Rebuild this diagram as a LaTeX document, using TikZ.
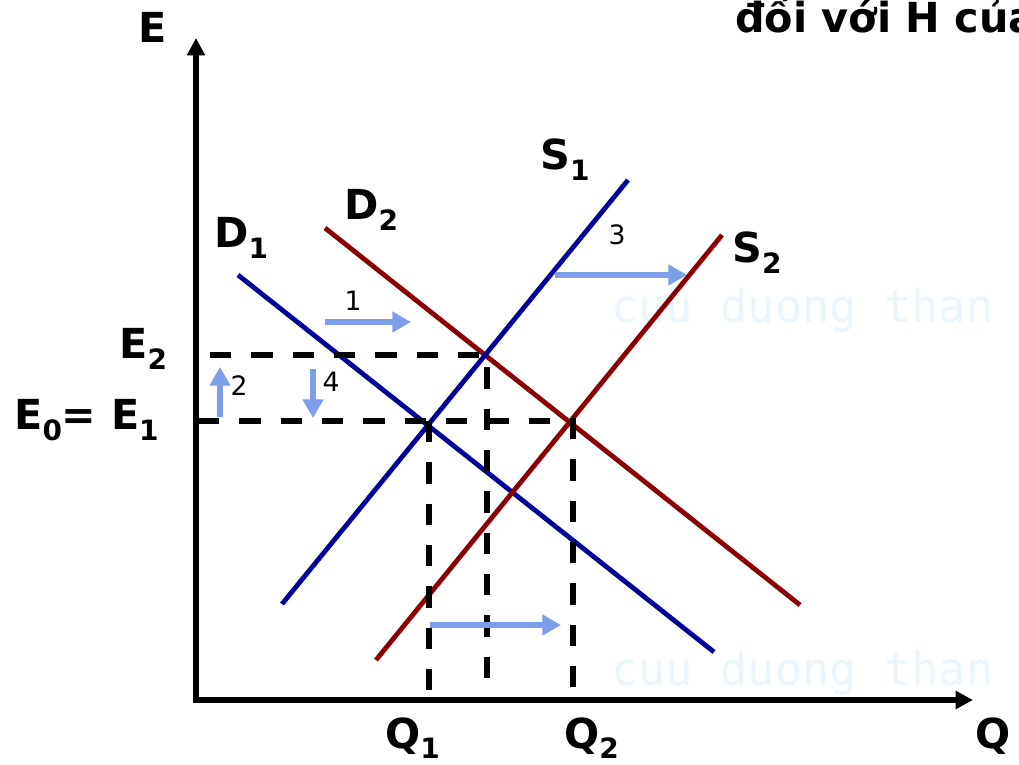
\documentclass[tikz,border=0pt]{standalone}
\usepackage{fontspec}
\setmainfont{DejaVu Sans}
\newfontfamily\wmfont{DejaVu Sans Mono}
\usetikzlibrary{arrows.meta}
\definecolor{dblue}{RGB}{0,0,153}
\definecolor{dred}{RGB}{139,0,0}
\definecolor{moveblue}{RGB}{125,158,232}
\definecolor{wmblue}{RGB}{234,245,252}
\newcommand{\lsub}[1]{\raisebox{-8pt}{\fontsize{21}{21}\selectfont #1}}

\begin{document}
\begin{tikzpicture}[x=0.75pt,y=0.75pt,
    lbl/.style={font=\fontsize{31}{34}\selectfont\bfseries,inner sep=0pt,anchor=base west},
    num/.style={font=\fontsize{20}{22}\selectfont,inner sep=0pt},
    wm/.style={font=\wmfont\fontsize{34}{36}\selectfont,text=wmblue,inner sep=0pt,anchor=base west},
    schedule/.style={line width=3.6pt},
    dashline/.style={line width=4pt,dash pattern=on 16pt off 15pt},
    movearrow/.style={moveblue,line width=4.5pt,-{Triangle[length=14pt,width=15pt]}},
    axisline/.style={line width=4pt,line join=miter,{Triangle[length=13pt,width=13pt]}-{Triangle[length=13pt,width=13pt]}}]
  \useasboundingbox (0,0) rectangle (1019,764);
  % watermark
  \node[wm] (wmtop) at (611,441) {cuu duong than};
  \node[wm] (wmbot) at (611,79) {cuu duong than};
  % title (cut by the page edge)
  \node[lbl] (title) at (735,731) {đối với H của};
  % axes
  \coordinate (O) at (196,64);
  \coordinate (Etip) at (196,726);
  \coordinate (Qtip) at (973,64);
  \draw[axisline] (Etip) -- (O) -- (Qtip);
  \node[lbl] (Elab) at (138,721) {E};
  \node[lbl] (Qlab) at (975,16) {Q};
  % demand and supply
  \draw[schedule,dblue] (238,489) coordinate (d1a) -- (714,112) coordinate (d1b);
  \draw[schedule,dred] (325,536) coordinate (d2a) -- (800,159) coordinate (d2b);
  \draw[schedule,dblue] (282,160) coordinate (s1a) -- (628,584) coordinate (s1b);
  \draw[schedule,dred] (376,104) coordinate (s2a) -- (722,529) coordinate (s2b);
  \node[lbl] (D1) at (214,516) {D\lsub{1}};
  \node[lbl] (D2) at (344,544) {D\lsub{2}};
  \node[lbl] (S1) at (540,594) {S\lsub{1}};
  \node[lbl] (S2) at (732,501) {S\lsub{2}};
  % equilibria
  \coordinate (P1) at (429,343);
  \coordinate (P2) at (487,409);
  \coordinate (P3) at (573,343);
  \draw[dashline] (210,409) -- (P2) -- (487,64);
  \draw[dashline] (198,343) -- (P3) -- (573,64);
  \draw[dashline] (P1) -- (429,64);
  \node[lbl] (E2) at (119,405) {E\lsub{2}};
  \node[lbl] (E01) at (14,334) {E\lsub{0}= E\lsub{1}};
  \node[lbl] (Q1) at (385,16) {Q\lsub{1}};
  \node[lbl] (Q2) at (564,16) {Q\lsub{2}};
  % shifts
  \draw[movearrow] (325,442) -- (411,442);
  \node[num] (n1) at (353,463) {1};
  \draw[movearrow] (220,347) -- (220,397);
  \node[num] (n2) at (239,378) {2};
  \draw[movearrow] (555,489) -- (687,489);
  \node[num] (n3) at (617,529) {3};
  \draw[movearrow] (313,395) -- (313,346);
  \node[num] (n4) at (331,382) {4};
  \draw[movearrow] (430,139) -- (561,139);
\end{tikzpicture}
\end{document}
